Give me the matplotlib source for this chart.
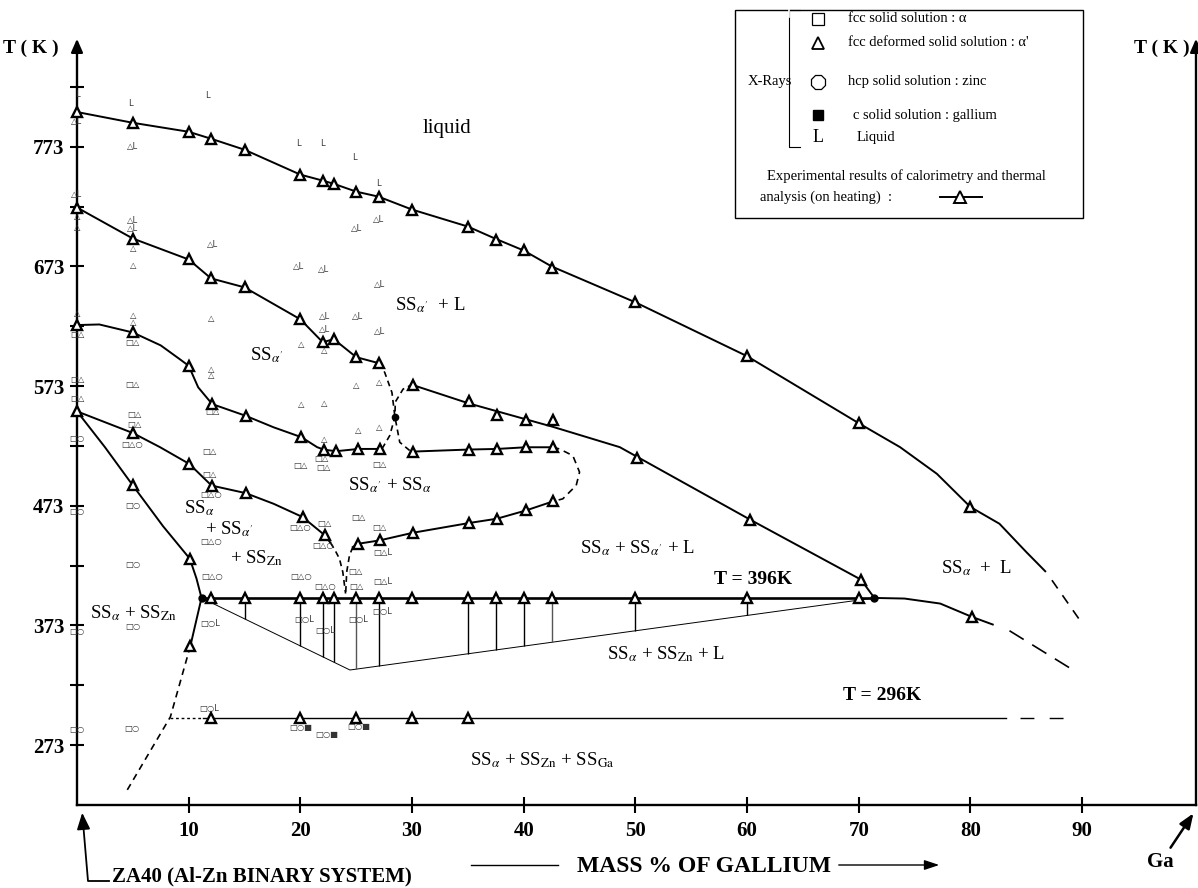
import matplotlib
matplotlib.use('Agg')
import matplotlib.pyplot as plt
import numpy as np
from matplotlib.patches import Rectangle

plt.rcParams['font.family'] = ['Liberation Serif', 'DejaVu Sans']
plt.rcParams['mathtext.fontset'] = 'stix'

# ---------------- data (mass % Ga, T in K) ----------------
# liquidus (top curve)
liq_g = [0, 5, 10, 12, 15, 20, 22, 23, 25, 27, 30, 35, 37.5, 40, 42.5, 50, 60, 70, 80]
liq_T = [802, 793, 785.5, 779.7, 770.5, 749.7, 744.7, 742, 735.5, 731.3, 720.5, 706.3, 694.7, 686.3, 671.3, 643, 598, 542, 472]
liq_line_g = [0, 5, 10, 12, 15, 20, 22, 23, 25, 27, 30, 35, 37.5, 40, 42.5, 50, 60, 70, 73.7, 77, 80, 82.6, 85, 86.7]
liq_line_T = [802, 793, 785.5, 779.7, 770.5, 749.7, 744.7, 742, 735.5, 731.3, 720.5, 706.3, 696, 686.3, 673, 643, 598, 542, 522, 499.7, 472, 458, 434.4, 418.3]
liq_ext_g = [87.3, 89.8]
liq_ext_T = [410.8, 377.4]

# alpha' + L boundary
c2_g = [0, 5, 10, 12, 15, 20, 22, 23, 25, 27]
c2_T = [722.2, 696.3, 678.8, 663, 655.5, 628.8, 609.7, 612.2, 597.2, 592.2]

# dashed crossing curves near the node
dA_g = [27.0, 27.55, 28.2, 28.47, 28.9, 29.8, 30.1]
dA_T = [592.2, 584.5, 567.7, 547.2, 526.1, 519.1, 518.3]
dB_g = [30.1, 29.2, 28.5, 28.47, 28.0, 27.4, 27.1]
dB_T = [574.7, 570.5, 559.7, 547.2, 531.6, 522, 520.5]
node_g, node_T = [28.47], [547.2]

# upper right boundary (SS_a' + L / SS_a + SS_a' + L)
c3_g = [30.1, 35.1, 37.6, 40.2, 42.6, 50.1, 60.3, 70.2]
c3_T = [573.8, 560.8, 548.8, 544.7, 544.7, 513, 461.3, 411.3]
c3_line_g = [30.1, 35.1, 42.6, 48.6, 60.3, 70.2, 71.4]
c3_line_T = [573.8, 558.5, 539, 522, 461.3, 411.3, 396]

# alpha' / alpha + alpha' boundary
c4_g = [0, 5, 10, 12.1, 15.1, 20.1, 22.1, 23.2, 25.2, 27.1]
c4_T = [624, 617.8, 590, 558, 548.2, 530.3, 519.9, 518.6, 520.5, 520.5]
c4_line_g = [0, 2, 5, 7.5, 9.2, 10, 10.85, 12.1, 15.1, 17.6, 20.1, 21.5, 22.1, 23.2, 25.2, 27.1]
c4_line_T = [624, 624.5, 617.8, 607, 595.5, 590, 572, 558, 548.2, 538.6, 530.3, 522, 519.9, 518.6, 520.5, 520.5]

# loop (right part)
loopU_g = [30.1, 35.1, 37.6, 40.2, 42.6]
loopU_T = [518.3, 520, 520.5, 521.9, 521.9]
loopD_g = [42.6, 43.2, 44.4, 45.0, 44.7, 43.5, 42.6]
loopD_T = [521.9, 520.5, 514.9, 501.1, 490, 478.8, 476.6]
loopL_g = [42.6, 40.2, 37.6, 35.1, 30.1, 27.1, 25.2]
loopL_T = [476.6, 469.1, 462.2, 458.6, 450.5, 444.1, 441.3]
loopL_line_g = [42.6, 40.2, 37.6, 35.1, 30.1, 27.1, 25.2, 24.7]
loopL_line_T = [476.6, 469.1, 462.2, 458.6, 450.5, 444.1, 441.3, 438.6]
loopLd_g = [24.7, 24.4, 24.15, 24.05]
loopLd_T = [438.6, 431.6, 417.7, 398]

# alpha / alpha + alpha' boundary
c6_g = [0, 5, 10.05, 12.05, 15.1, 20.2, 22.2]
c6_T = [551.9, 533.8, 508, 489.9, 483.6, 463.6, 448.3]
c6_line_g = [0, 5, 7.43, 10.05, 12.05, 15.1, 17.6, 20.2, 22.2, 22.7]
c6_line_T = [551.9, 533.8, 522, 508, 489.9, 483.6, 474.7, 463.6, 448.3, 442]
c6d_g = [22.7, 23.1, 23.5, 23.8, 24.05]
c6d_T = [442, 436, 428.8, 417.7, 399.7]

# Zn solvus
c7_g = [5.0, 10.1, 10.15]
c7_T = [490, 428.8, 355.8]
c7_line_g = [0, 2.5, 5.0, 7.7, 10.1, 10.7, 11.15, 10.15]
c7_line_T = [551.9, 522, 490, 456, 428.8, 412.2, 396, 355.8]
c7d_g = [10.15, 8.36, 4.4]
c7d_T = [355.8, 296.6, 234]

# invariant T = 396 K
T396 = 396
inv_g = [11.15, 71.4]
t396_g = [12, 15, 20, 22, 23, 25, 27, 30, 35, 37.5, 40, 42.5, 50, 60, 70]
tie_g = [12, 15, 20, 22, 23, 25, 27, 35, 37.5, 40, 42.5, 50, 60]
bound_g = [11.15, 24.44, 71.4]
bound_T = [396, 335.8, 396]

# right branch beyond 71.4 %
c8_line_g = [71.4, 74.1, 77.3, 80.1, 82.0]
c8_line_T = [396, 395.5, 391.3, 380.3, 373.8]
c8_g = [80.1]
c8_T = [380.3]
c8d_g = [83.5, 89.05]
c8d_T = [368.6, 336.6]

# T = 296 K
T296 = 296
t296_g = [12, 20, 25, 30, 35]
l296_g = [11.3, 83.2]
l296_dot_g = [8.36, 11.3]
l296_dash_g = [84.4, 88.4]

# X-ray results (g, T, symbols)
xr_g = [0, 4.8, 11.7, 0, 5, 19.8, 22.0, 24.8, 27.0, 0, 0, 0,
        5, 5, 5, 5, 12.1, 27.0, 25.0, 19.8, 22.1, 27.1,
        0, 5, 5, 12, 22.2, 25.1, 22.2, 27.1, 20.1, 22.1,
        0, 5, 12, 12, 0, 0, 5, 25, 27.1,
        5.1, 5.1, 12.1, 20.1, 22.1, 25.2, 27.1, 22.1,
        0, 4.9, 11.9, 21.9, 20, 22.05, 27.1, 11.9, 12,
        0, 5, 25.2, 20, 22.2, 27.1, 12, 22.05, 27.4,
        5, 24.9, 27.4, 12.1, 20.1, 22.2, 25,
        11.9, 20.3, 22.2, 25.2, 27.3, 5, 0,
        0, 4.9, 11.8, 20, 22.4, 25.2]
xr_T = [817, 809, 816, 794, 773, 776.1, 776.1, 764.4, 742.2, 733, 715, 705.3,
        711.3, 704.4, 687.7, 673.8, 691.3, 712.2, 704.7, 672.8, 670.5, 658,
        633.8, 631.6, 626, 629.7, 631.1, 631.1, 620.5, 618.3, 607.4, 602.4,
        616, 609.4, 587.2, 581.6, 578.3, 562.7, 574, 573.8, 576,
        549, 541.3, 551.6, 558, 558.6, 535.8, 538.6, 528,
        529.4, 524, 518.3, 512.8, 506.6, 505.2, 507.2, 498.8, 482.2,
        468.3, 473.3, 463.6, 455.2, 458, 455.2, 443.3, 440, 433.8,
        424.1, 418.3, 409.4, 413.6, 413.6, 405.3, 405.3,
        374.7, 377.6, 368.4, 377.6, 384.4, 371.8, 368.3,
        286.3, 286.9, 303.6, 287.8, 281.6, 288.6]
xr_s = ['L', 'L', 'L', '△L', '△L', 'L', 'L', 'L', 'L', '△L', '△', '△',
        '△L', '△L', '△', '△', '△L', '△L', '△L', '△L', '△L', '△L',
        '△', '△', '△', '△', '△L', '△L', '△L', '△L', '△', '△',
        '□△', '□△', '△', '△', '□△', '□△', '□△', '△', '△',
        '□△', '□△', '□△', '△', '△', '△', '△', '△',
        '□○', '□△○', '□△', '□△', '□△', '□△', '□△', '□△', '□△○',
        '□○', '□○', '□△', '□△○', '□△', '□△', '□△○', '□△○', '□△L',
        '□○', '□△', '□△L', '□△○', '□△○', '□△○', '□△',
        '□○L', '□○L', '□○L', '□○L', '□○L', '□○', '□○',
        '□○', '□○', '□○L', '□○■', '□○■', '□○■']

y_major = [273, 373, 473, 573, 673, 773]
y_minor = [323, 423, 523, 623, 723, 823]
x_major = [10, 20, 30, 40, 50, 60, 70, 80, 90]

# ---------------- figure ----------------
W, H = 1198, 888
fig = plt.figure(figsize=(W / 100, H / 100), dpi=100)
X0, X1 = 77, 1196
YB, YT = 805, 45
ax = fig.add_axes([X0 / W, 1 - YB / H, (X1 - X0) / W, (YB - YT) / H])
ax.set_xlim(0, 100.2)
ax.set_ylim(223, 858)
ax.set_facecolor('none')
ax.spines['top'].set_visible(False)
for s in ['left', 'right', 'bottom']:
    ax.spines[s].set_linewidth(1.7)
ax.set_xticks(x_major, [str(v) for v in x_major])
ax.set_yticks(y_major, [str(v) for v in y_major])
ax.set_yticks(y_minor, minor=True)
ax.tick_params(axis='x', direction='inout', length=11, width=1.5, pad=6,
               labelsize=15)
ax.tick_params(axis='y', which='both', direction='inout', length=10, width=1.5,
               pad=4, labelsize=15, right=False)
for lab in ax.get_xticklabels() + ax.get_yticklabels():
    lab.set_fontweight('bold')

LW = 1.4
kw = dict(color='k', clip_on=False)
mk = dict(marker='^', ms=6.5, mfc='white', mec='k', mew=1.7, ls='none',
          clip_on=False, zorder=5)

# liquidus
ax.plot(liq_line_g, liq_line_T, lw=LW, **kw)
ax.plot(liq_ext_g, liq_ext_T, lw=1.2, dashes=(6, 5), **kw)
ax.plot(liq_g, liq_T, **mk)

# curve 2
ax.plot(c2_g, c2_T, lw=LW, **kw)
ax.plot(c2_g, c2_T, **mk)
ax.plot(dA_g, dA_T, lw=1.2, dashes=(3.5, 2.5), **kw)
ax.plot(dB_g, dB_T, lw=1.2, dashes=(3.5, 2.5), **kw)
ax.plot(node_g, node_T, 'o', ms=4.5, color='k', clip_on=False, zorder=6)

# curve 3
ax.plot(c3_line_g, c3_line_T, lw=LW, **kw)
ax.plot(c3_g, c3_T, **mk)

# curve 4
ax.plot(c4_line_g, c4_line_T, lw=LW, **kw)
ax.plot(c4_g, c4_T, **mk)
ax.plot(loopU_g, loopU_T, lw=LW, **kw)
ax.plot(loopU_g, loopU_T, **mk)
ax.plot(loopD_g, loopD_T, lw=1.2, dashes=(4, 3), **kw)
ax.plot(loopL_line_g, loopL_line_T, lw=LW, **kw)
ax.plot(loopL_g, loopL_T, **mk)
ax.plot(loopLd_g, loopLd_T, lw=1.2, dashes=(3.5, 2.5), **kw)

# curve 6
ax.plot(c6_line_g, c6_line_T, lw=LW, **kw)
ax.plot(c6_g, c6_T, **mk)
ax.plot(c6d_g, c6d_T, lw=1.2, dashes=(3.5, 2.5), **kw)

# Zn solvus
ax.plot(c7_line_g, c7_line_T, lw=LW, **kw)
ax.plot(c7d_g, c7d_T, lw=1.2, dashes=(4, 3), **kw)
ax.plot(c7_g, c7_T, **mk)

# lower boundary + tie lines
ax.plot(bound_g, bound_T, lw=0.7, **kw)
tie_bottom = np.interp(tie_g, bound_g, bound_T)
tie_colors = ['#555' if g in (25, 42.5) else 'k' for g in tie_g]
ax.vlines(tie_g, tie_bottom, T396, colors=tie_colors, lw=1.0, clip_on=False)

# T = 396 K
ax.plot(inv_g, [T396, T396], lw=1.9, **kw)
ax.plot(t396_g, [T396] * len(t396_g), **mk)
ax.plot(inv_g, [T396, T396], 'o', ms=5, color='k', clip_on=False, zorder=6)

# right branch
ax.plot(c8_line_g, c8_line_T, lw=LW, **kw)
ax.plot(c8d_g, c8d_T, lw=1.2, dashes=(10, 6), **kw)
ax.plot(c8_g, c8_T, **mk)

# T = 296 K
ax.plot(l296_g, [T296, T296], lw=1.0, **kw)
ax.plot(l296_dot_g, [T296, T296], lw=1.0, dashes=(2, 2), **kw)
ax.plot(l296_dash_g, [T296, T296], lw=1.0, dashes=(10, 11), **kw)
ax.plot(t296_g, [T296] * len(t296_g), **mk)

# X-ray symbols
for g, t, s in zip(xr_g, xr_T, xr_s):
    ax.text(g, t, s, fontsize=6, ha='center', va='center', color='#333',
            family=['DejaVu Sans'], clip_on=False, zorder=4)

# ---------------- annotations (pixel overlay) ----------------
pax = fig.add_axes([0, 0, 1, 1])
pax.set_xlim(0, W)
pax.set_ylim(H, 0)
pax.axis('off')
pax.set_facecolor('none')

arw = dict(arrowstyle='-|>,head_length=0.8,head_width=0.35', color='k', lw=1.7)
pax.annotate('', xy=(X0, 36), xytext=(X0, 52), arrowprops=arw)
pax.annotate('', xy=(X1, 36), xytext=(X1, 52), arrowprops=arw)
pax.text(3, 48, 'T ( K )', fontsize=14, fontweight='bold', ha='left', va='center')
pax.text(1190, 48, 'T ( K )', fontsize=14, fontweight='bold', ha='right', va='center')

# bottom texts
pax.plot([471, 558], [865, 865], color='k', lw=1.0)
pax.text(577, 866, 'MASS % OF GALLIUM', fontsize=17, fontweight='bold',
         ha='left', va='center')
pax.annotate('', xy=(942, 865), xytext=(836, 865),
             arrowprops=dict(arrowstyle='-|>,head_length=0.9,head_width=0.3',
                             color='k', lw=1.0))
pax.text(112, 876, 'ZA40 (Al-Zn BINARY SYSTEM)', fontsize=15, fontweight='bold',
         ha='left', va='center')
pax.plot([109, 88, 83.5], [881, 881, 828], color='k', lw=1.3)
pax.annotate('', xy=(82, 810), xytext=(83.6, 830),
             arrowprops=dict(arrowstyle='-|>,head_length=1.0,head_width=0.4',
                             color='k', lw=1.3))
pax.text(1160, 862, 'Ga', fontsize=15, fontweight='bold', ha='center', va='center')
pax.annotate('', xy=(1195, 811), xytext=(1169, 850),
             arrowprops=dict(arrowstyle='-|>,head_length=0.9,head_width=0.35',
                             color='k', lw=1.8))

# region labels
fs = 13.5
pax.text(447, 128, 'liquid', fontsize=15, ha='center', va='center')
pax.text(430, 305, r"SS$_{\alpha'}$  + L", fontsize=fs, ha='center', va='center')
pax.text(267, 355, r"SS$_{\alpha'}$", fontsize=fs, ha='center', va='center')
pax.text(390, 485, r"SS$_{\alpha'}$ + SS$_{\alpha}$", fontsize=fs, ha='center', va='center')
pax.text(199, 508, r"SS$_{\alpha}$", fontsize=fs, ha='center', va='center')
pax.text(229, 529, r"+ SS$_{\alpha'}$", fontsize=fs, ha='center', va='center')
pax.text(256, 558, r"+ SS$_{\rm Zn}$", fontsize=fs, ha='center', va='center')
pax.text(133, 613, r"SS$_{\alpha}$ + SS$_{\rm Zn}$", fontsize=fs, ha='center', va='center')
pax.text(637, 548, r"SS$_{\alpha}$ + SS$_{\alpha'}$ + L", fontsize=fs, ha='center', va='center')
pax.text(753, 579, 'T = 396K', fontsize=14, fontweight='bold', ha='center', va='center')
pax.text(976, 568, r"SS$_{\alpha}$  +  L", fontsize=fs, ha='center', va='center')
pax.text(666, 654, r"SS$_{\alpha}$ + SS$_{\rm Zn}$ + L", fontsize=fs, ha='center', va='center')
pax.text(882, 695, 'T = 296K', fontsize=14, fontweight='bold', ha='center', va='center')
pax.text(542, 760, r"SS$_{\alpha}$ + SS$_{\rm Zn}$ + SS$_{\rm Ga}$", fontsize=fs,
         ha='center', va='center')

# legend box
pax.add_patch(Rectangle((735, 10), 348, 208, fill=True, facecolor='white',
                        edgecolor='k', lw=1.0, zorder=1))
pax.plot([800, 789, 789, 800], [10, 10, 147, 147], color='k', lw=0.8, zorder=2)
pax.plot([789, 789], [10, 17], color='white', lw=1.2, zorder=2)
pax.text(770, 81, 'X-Rays', fontsize=10.5, ha='center', va='center', zorder=3)
pax.plot(818, 19, marker='s', ms=8, mfc='white', mec='k', mew=0.9, zorder=3)
pax.plot(818, 43, marker='^', ms=9, mfc='white', mec='k', mew=1.3, zorder=3)
pax.plot(818, 82, marker='8', ms=11, mfc='white', mec='k', mew=0.9, zorder=3)
pax.plot(818, 115, marker='s', ms=7, mfc='k', mec='k', zorder=3)
pax.text(818, 138, 'L', fontsize=13, ha='center', va='center', zorder=3)
pax.text(848, 19, 'fcc solid solution : α', fontsize=10.5, ha='left', va='center', zorder=3)
pax.text(848, 43, "fcc deformed solid solution : α'", fontsize=10.5, ha='left', va='center', zorder=3)
pax.text(848, 82, 'hcp solid solution : zinc', fontsize=10.5, ha='left', va='center', zorder=3)
pax.text(853, 115, 'c solid solution : gallium', fontsize=10.5, ha='left', va='center', zorder=3)
pax.text(857, 138, 'Liquid', fontsize=10.5, ha='left', va='center', zorder=3)
pax.text(906, 176, 'Experimental results of calorimetry and thermal', fontsize=10.5,
         ha='center', va='center', zorder=3)
pax.text(760, 197, 'analysis (on heating)  :', fontsize=10.5, ha='left', va='center', zorder=3)
pax.plot([940, 982], [197, 197], color='k', lw=1.4, zorder=3)
pax.plot(960, 197, marker='^', ms=9, mfc='white', mec='k', mew=1.4, zorder=4)

fig.savefig('out.png', dpi=100)
